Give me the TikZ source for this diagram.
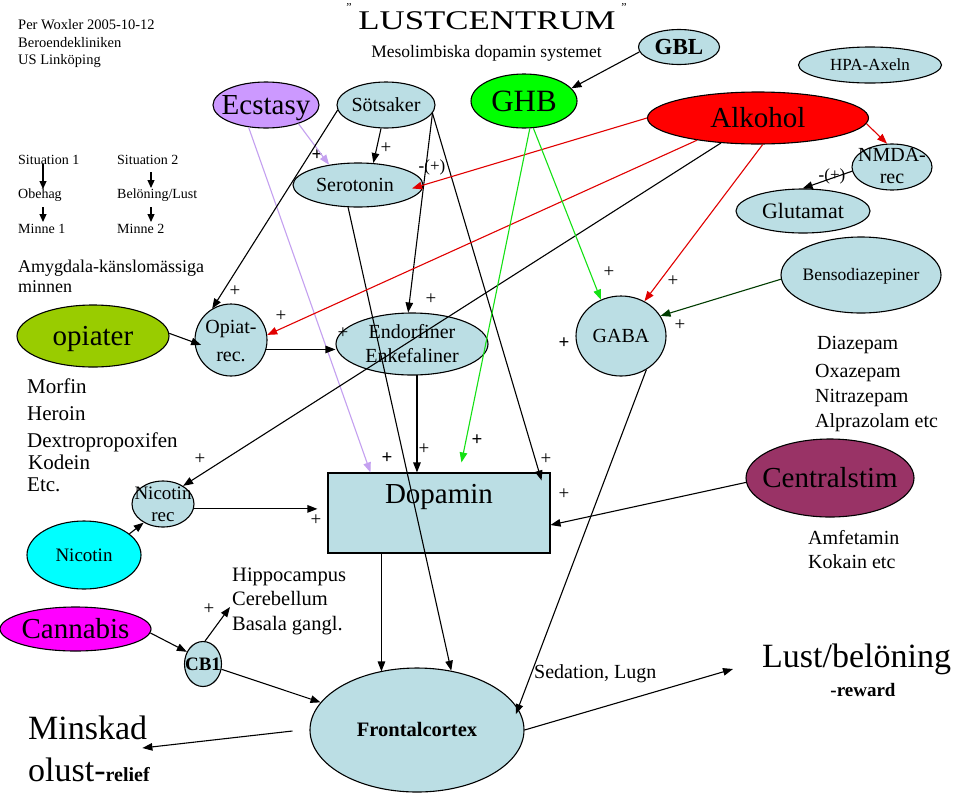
\documentclass[tikz,border=0pt]{standalone}
\usepackage{fontspec}
\setmainfont{Liberation Serif}
\usepackage{graphicx}
\usetikzlibrary{shapes.geometric,arrows.meta,calc}
\definecolor{lblue}{RGB}{187,222,228}
\definecolor{ecsc}{RGB}{204,153,255}
\definecolor{lavl}{RGB}{196,160,240}
\definecolor{ghbc}{RGB}{0,255,0}
\definecolor{greenl}{RGB}{20,225,20}
\definecolor{redl}{RGB}{225,0,0}
\definecolor{opic}{RGB}{153,204,0}
\definecolor{nicc}{RGB}{0,255,255}
\definecolor{canc}{RGB}{255,0,255}
\definecolor{cenc}{RGB}{153,51,102}
\definecolor{dgreen}{RGB}{0,60,0}
\newcommand\fsz[2]{\fontsize{#1}{#2}\selectfont}
\newcommand\onel[1]{\smash{\raisebox{-0.33em}{\makebox[0pt]{#1}}}}
\newcommand\twol[2]{\smash{\raisebox{-0.33em}{\makebox[0pt]{\begin{tabular}{@{}c@{}}#1\\#2\end{tabular}}}}}
\tikzset{
  ell/.style={ellipse, draw, line width=1.1pt, inner sep=0pt},
  arr/.style={line width=1.1pt, -{Triangle[length=10pt,width=7.5pt]}},
  sarr/.style={line width=1.2pt, -{Triangle[length=8pt,width=7pt]}},
  txt/.style={inner sep=0pt, anchor=base west},
  pl/.style={inner sep=0pt, font=\fsz{19}{19}},
  plb/.style={inner sep=0pt, font=\fsz{19}{19}\bfseries},
  mp/.style={inner sep=0pt, font=\fsz{17}{17}}
}
\begin{document}
\begin{tikzpicture}[x=1pt,y=-1pt]
\fill[white] (0,0) rectangle (960,793);
\useasboundingbox (0,0) rectangle (960,793);

% ---------- header texts
\node[txt, font=\fsz{14.5}{18}] (per1) at (18,29) {Per Woxler 2005-10-12};
\node[txt, font=\fsz{14.5}{18}] (per2) at (18,47) {Beroendekliniken};
\node[txt, font=\fsz{14.5}{18}] (per3) at (18,64) {US Linköping};

\node[txt, font=\fsz{14}{18}] (s1) at (18,164) {Situation 1};
\node[txt, font=\fsz{14}{18}] (s2) at (117,164) {Situation 2};
\node[txt, font=\fsz{14}{18}] (ob) at (18,198) {Obehag};
\node[txt, font=\fsz{14}{18}] (bel) at (117,198) {Belöning/Lust};
\node[txt, font=\fsz{14}{18}] (m1) at (18,233) {Minne 1};
\node[txt, font=\fsz{14}{18}] (m2) at (117,233) {Minne 2};
\node[txt, font=\fsz{18}{20}] (amy1) at (18,272) {Amygdala-känslomässiga};
\node[txt, font=\fsz{18}{20}] (amy2) at (18,292) {minnen};

\node[inner sep=0pt, anchor=base, font=\fsz{27}{30}] (title) at (487,29) {\scalebox{1.29}[1]{LUSTCENTRUM}};
\node[inner sep=0pt, font=\fsz{12}{12}] (q1) at (349,8) {”};
\node[inner sep=0pt, font=\fsz{12}{12}] (q2) at (624,8) {”};
\node[inner sep=0pt, anchor=base, font=\fsz{17.5}{20}] (meso) at (486.5,57) {Mesolimbiska dopamin systemet};

% ---------- nodes
\node[ell, fill=ecsc, minimum width=106pt, minimum height=46pt, font=\fsz{29}{34}] (ecs) at (266,105) {\onel{Ecstasy}};
\node[ell, fill=lblue, minimum width=98pt, minimum height=46pt, font=\fsz{20}{24}] (sot) at (386,105) {\onel{Sötsaker}};
\node[ell, fill=ghbc, minimum width=106pt, minimum height=54pt, font=\fsz{31}{36}] (ghb) at (524,101) {\onel{GHB}};
\node[ell, fill=lblue, minimum width=81pt, minimum height=35pt, font=\fsz{23}{26}\bfseries] (gbl) at (679,47) {\onel{GBL}};
\node[ell, fill=lblue, minimum width=143pt, minimum height=36pt, font=\fsz{17}{20}] (hpa) at (870,65) {\onel{HPA-Axeln}};
\node[ell, fill=red, minimum width=221pt, minimum height=52pt, font=\fsz{29}{34}] (alk) at (758,118) {\onel{Alkohol}};
\node[ell, fill=lblue, minimum width=80pt, minimum height=46pt, font=\fsz{20}{22}] (nmda) at (892,167) {\twol{NMDA-}{rec}};
\node[ell, fill=lblue, minimum width=134pt, minimum height=44pt, font=\fsz{22}{26}] (glu) at (803,211) {\onel{Glutamat}};
\node[ell, fill=lblue, minimum width=130pt, minimum height=44pt, font=\fsz{20}{24}] (ser) at (358,185) {\onel{\hspace*{-6pt}Serotonin}};
\node[ell, fill=lblue, minimum width=160pt, minimum height=76pt, font=\fsz{17.5}{20}] (ben) at (861,275) {\onel{Bensodiazepiner}};
\node[ell, fill=opic, minimum width=152pt, minimum height=62pt, font=\fsz{29}{34}] (opi) at (93,336) {\onel{opiater}};
\node[ell, fill=lblue, minimum width=72pt, minimum height=72pt, font=\fsz{20}{28}] (opr) at (231,340) {\twol{Opiat-}{rec.}};
\node[ell, fill=lblue, minimum width=152pt, minimum height=62pt, font=\fsz{20}{24}] (endo) at (412,344) {\twol{Endorfiner}{Enkefaliner}};
\node[ell, fill=lblue, minimum width=90pt, minimum height=80pt, font=\fsz{20}{24}] (gaba) at (621,336) {\onel{GABA}};
\node[draw, line width=1.1pt, fill=lblue, minimum width=222pt, inner sep=0pt, text height=30pt, text depth=50pt, font=\fsz{29}{34}] (dop) at (439,513) {Dopamin};
\node[ell, fill=lblue, minimum width=62pt, minimum height=46pt, font=\fsz{19}{22}] (nrec) at (163,504) {\twol{Nicotin}{rec}};
\node[ell, fill=nicc, minimum width=114pt, minimum height=68pt, font=\fsz{19}{22}] (nic) at (84,555) {\onel{Nicotin}};
\node[ell, fill=canc, minimum width=151pt, minimum height=44pt, font=\fsz{29}{34}] (can) at (75.5,629) {\onel{Cannabis}};
\node[ell, fill=lblue, minimum width=37pt, minimum height=45pt, font=\fsz{19}{22}\bfseries] (cb1) at (203,664) {\onel{CB1}};
\node[ell, fill=lblue, minimum width=214pt, minimum height=124pt, font=\fsz{20.5}{24}\bfseries] (fc) at (417,730) {\onel{Frontalcortex}};
\node[ell, fill=cenc, minimum width=168pt, minimum height=78pt, font=\fsz{29}{34}] (cen) at (830,478) {\onel{Centralstim}};

% ---------- free texts
\node[txt, font=\fsz{21}{24}] (mor1) at (27,393) {Morfin};
\node[txt, font=\fsz{21}{24}] (mor2) at (27,420) {Heroin};
\node[txt, font=\fsz{21}{24}] (mor3) at (27,447) {Dextropropoxifen};
\node[txt, font=\fsz{21}{24}] (mor4) at (28,469) {Kodein};
\node[txt, font=\fsz{21}{24}] (mor5) at (27,491) {Etc.};

\node[txt, font=\fsz{20.5}{24}] (hip1) at (232,581) {Hippocampus};
\node[txt, font=\fsz{20.5}{24}] (hip2) at (232,605) {Cerebellum};
\node[txt, font=\fsz{20.5}{24}] (hip3) at (232,630) {Basala gangl.};

\node[txt, font=\fsz{20}{24}] (dia1) at (817,349) {Diazepam};
\node[txt, font=\fsz{20}{24}] (dia2) at (815,377) {Oxazepam};
\node[txt, font=\fsz{20}{24}] (dia3) at (815,402) {Nitrazepam};
\node[txt, font=\fsz{20}{24}] (dia4) at (815,427) {Alprazolam etc};

\node[txt, font=\fsz{20}{24}] (amf1) at (808,544) {Amfetamin};
\node[txt, font=\fsz{20}{24}] (amf2) at (808,568) {Kokain etc};

\node[txt, font=\fsz{20}{24}] (sed) at (534,678) {Sedation, Lugn};
\node[txt, font=\fsz{34}{38}] (lust) at (762,667) {Lust/belöning};
\node[inner sep=0pt, anchor=base, font=\fsz{19}{22}\bfseries] (rew) at (863,696) {-reward};
\node[txt, font=\fsz{34}{38}] (mins1) at (28,739) {Minskad};
\node[txt, font=\fsz{34}{38}] (mins2) at (28,781) {olust-{\fsz{20}{24}\bfseries relief}};

% ---------- plus labels
\node[pl] (p1) at (386,148) {+};
\node[pl] (p2) at (235,291) {+};
\node[pl] (p3) at (281,316) {+};
\node[pl] (p4) at (343,333) {+};
\node[pl] (p5) at (431,299) {+};
\node[pl] (p6) at (609,272) {+};
\node[pl] (p7) at (673,281) {+};
\node[pl] (p8) at (680,325) {+};
\node[pl] (p9) at (200,459) {+};
\node[pl] (p10) at (316,520) {+};
\node[pl] (p11) at (424,449) {+};
\node[pl] (p12) at (546,459) {+};
\node[pl] (p13) at (564,494) {+};
\node[pl] (p14) at (209,609) {+};
\node[plb] (b1) at (317,155) {+};
\node[plb] (b2) at (564,343) {+};
\node[plb] (b3) at (387,458) {+};
\node[plb] (b4) at (477,440) {+};
\node[mp] (mp1) at (432,167) {{\bfseries -}(+)};
\node[mp] (mp2) at (832,176) {{\bfseries -}(+)};

% ---------- situation arrows
\draw[sarr] ($(s1.base west)+(25,0)$) -- ($(ob.base west)+(25,-9)$);
\draw[sarr] ($(ob.base west)+(25,9)$) -- ($(m1.base west)+(25,-11)$);
\draw[sarr] ($(s2.base west)+(34,8)$) -- ($(bel.base west)+(34,-10)$);
\draw[sarr] ($(bel.base west)+(34,9)$) -- ($(m2.base west)+(34,-11)$);

% ---------- connectors
\draw[arr] (gbl.187) -- (ghb.15);
\draw[arr] (sot.258) -- (ser.55.7);
\draw[arr, lavl] (ecs.330) -- (ser.145);
\draw[arr, lavl] (ecs.232) -- ($(dop.north west)+(43,0)$);
\draw[arr] (sot.186) -- (opr.121);
\draw[arr] (sot.350) -- (endo.97);
\draw[arr] (sot.350) -- ($(dop.north east)+(-9,8)$);
\draw[arr] (ser.246.5) -- (fc.60);
\draw[arr] (endo.279) -- (endo.279 |- dop.north);
\draw[arr] ($(dop.south west)+(54,0)$) coordinate (dsw) -- ($(dsw |- fc.north)+(0,4)$);
\draw[arr, shorten >=-7pt] (opi.2) -- (opr.184);
\draw[arr] (opr.345) -- (opr.345 -| endo.west);
\draw[arr, redl, shorten >=-12pt] (alk.180) -- (ser.east);
\draw[arr, redl] (alk.200) -- (opr.8);
\draw[arr] (alk.214) -- (nrec.42);
\draw[arr, redl] (alk.280) -- (gaba.56);
\draw[arr, redl] (alk.357) -- (nmda.102);
\draw[arr] (nmda.186) -- (glu.91);
\draw[arr, greenl] (ghb.282) -- ($(dop.north west)+(134,-10)$);
\draw[arr, greenl] (ghb.289) -- (gaba.119);
\draw[arr, dgreen] (ben.183) -- (gaba.27);
\draw[arr] (cen.183) -- ($(dop.east)+(0,12)$);
\draw[arr, shorten >=-6pt] (gaba.307) -- (fc.12);
\draw[arr] (fc.east) -- ($(lust.base west)+(-29,2)$);
\draw[arr] ($(fc.west)+(-17,1)$) -- ($(mins1.base east)+(-5,9)$);
\draw[arr] (cb1.344) -- (fc.164);
\draw[arr] (can.357) -- (cb1.143);
\draw[arr] (cb1.85) -- ($(hip2.base west)+(-2,2)$);
\draw[arr] (nic.25) -- (nrec.224);
\draw[arr] (nrec.351) -- ($(nrec.351 -| dop.west)+(-10,0)$);
\end{tikzpicture}
\end{document}
